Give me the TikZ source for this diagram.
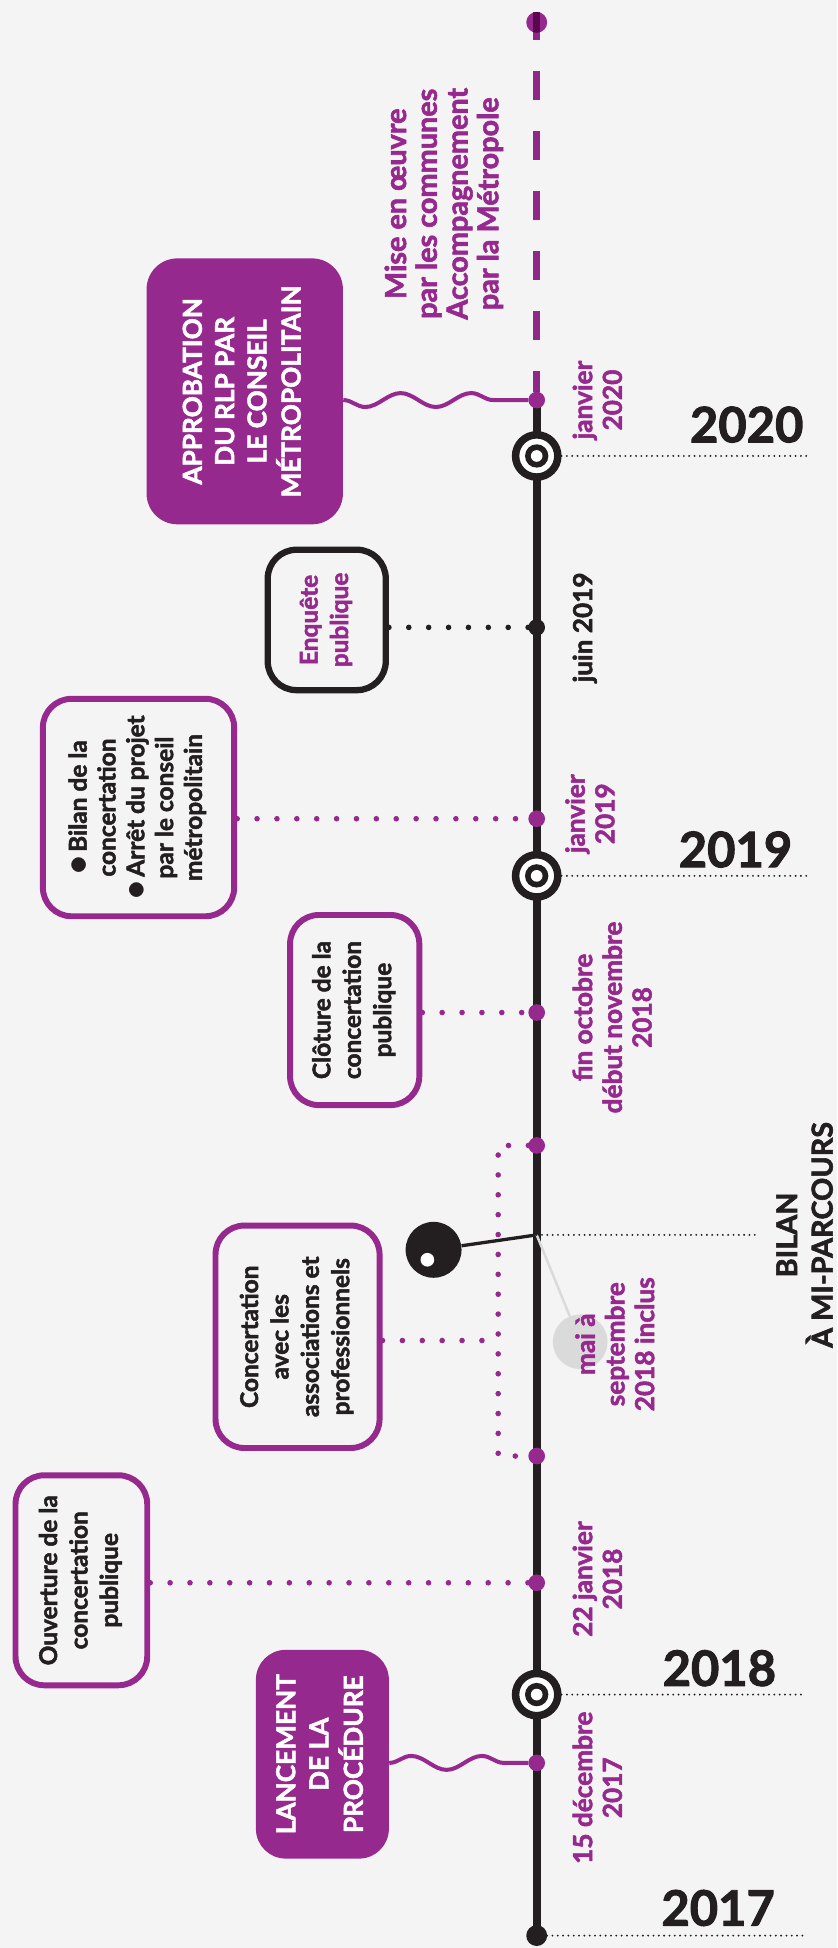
\documentclass[tikz,border=0pt]{standalone}
\usepackage{fontspec}
\usepackage{graphicx}
\setmainfont{Lato}[BoldFeatures={FakeBold=2}]
\usetikzlibrary{positioning,decorations.pathmorphing}

\definecolor{bgc}{HTML}{F4F4F4}
\definecolor{plum}{RGB}{150,41,142}
\definecolor{ink}{HTML}{231F20}
\definecolor{shade}{HTML}{DADADA}

\pgfdeclarelayer{back}
\pgfsetlayers{back,main}

\tikzstyle{solidbox} = [rectangle, fill=plum, text=white, rounded corners=0.62cm, inner sep=0pt, font=\fontsize{15}{18.5}\selectfont\bfseries]
\tikzstyle{plumbox}  = [rectangle, draw=plum, line width=3.4pt, fill=bgc, rounded corners=0.58cm, inner sep=0pt, text=ink, font=\fontsize{14}{17.4}\selectfont\bfseries]
\tikzstyle{inkbox}   = [plumbox, draw=ink, line width=3.6pt, text=plum]
\tikzstyle{event}    = [circle, fill=plum, inner sep=0pt, outer sep=0pt, minimum size=0.335cm]
\tikzstyle{yearmark} = [circle, draw=ink, fill=white, line width=4.3pt, inner sep=0pt, minimum size=0.85cm,
                        path picture={\fill[ink] (path picture bounding box.center) circle (0.235cm);
                                      \fill[white] (path picture bounding box.center) circle (0.1175cm);}]
\tikzstyle{datelbl}  = [inner sep=0pt, outer sep=0pt, text=plum, font=\fontsize{15}{17}\selectfont\bfseries]
\tikzstyle{year}     = [inner sep=0pt, text=ink, font=\fontsize{28}{28}\selectfont\bfseries]
\tikzstyle{pin}      = [circle, fill=ink, inner sep=0pt, minimum size=1.125cm,
                        path picture={\fill[white] ([xshift=-0.125cm, yshift=-0.2cm]path picture bounding box.center) circle (0.1375cm);}]
\tikzstyle{shadow}   = [circle, fill=shade, inner sep=0pt, minimum size=1.1cm]
\tikzstyle{dotp}     = [draw=plum, line width=3.2pt, line cap=round, dash pattern=on 0pt off 0.4cm]
\tikzstyle{dotk}     = [dotp, draw=ink]
\tikzstyle{dotthin}  = [draw=ink, line width=1.2pt, line cap=round, dash pattern=on 0pt off 0.107cm]
\tikzstyle{wave}     = [draw=plum, line width=2.3pt, decorate, decoration={snake, amplitude=0.14cm, segment length=1.42cm}]
\tikzstyle{axisline} = [draw=ink, line width=4.4pt]
\tikzstyle{dashline} = [draw=plum, line width=3.8pt, dash pattern=on 0.585cm off 0.6225cm, dash phase=0.1675cm]

\newcommand{\vtext}[1]{\rotatebox{90}{\begin{tabular}{@{}c@{}}#1\end{tabular}}}
\newcommand{\blt}{\raisebox{-0.06em}{\scalebox{1.5}{$\bullet$}}\,}

\begin{document}
\begin{tikzpicture}[x=0.025cm, y=-0.025cm]

	\useasboundingbox (0,0) rectangle (674,1568);
	\begin{pgfonlayer}{back}
		\fill [bgc] (0,0) rectangle (674,1568);
	\end{pgfonlayer}

	% Node Setting %

	% axis =====================================%
	\node [event, minimum size=0.42cm] (top) at (432,18) {};
	\node [event] (j20) at (432,322) {};
	\node [yearmark] (y20) at (432,367) {};
	\node [event, fill=ink] (jun19) at (432,505) {};
	\node [event] (j19) at (432,659) {};
	\node [yearmark] (y19) at (432,705) {};
	\node [event] (oct18) at (432,815) {};
	\node [event] (mai18) at (432,922) {};
	\coordinate (bilan) at (432,994);
	\node [event] (sep18) at (432,1172) {};
	\node [event] (j18) at (432,1274) {};
	\node [yearmark] (y18) at (432,1364) {};
	\node [event] (d17) at (432,1419) {};
	\node [event, fill=ink, minimum size=0.42cm] (y17) at (432,1558) {};

	% years ====================================%
	\node [year, anchor=base east] (t20) at (647,356) {2020};
	\node [year, anchor=base east] (t19) at (638,698) {2019};
	\node [year, anchor=base east] (t18) at (625,1357) {2018};
	\node [year, anchor=base east] (t17) at (624,1550) {2017};
	\coordinate (e20) at (653,367);
	\coordinate (e19) at (650,705);
	\coordinate (e18) at (648,1364);
	\coordinate (e17) at (648,1558);

	% dates ====================================%
	\node [datelbl, right=0.53cm of j20] (lj20) {\vtext{janvier\\2020}};
	\node [datelbl, text=ink, right=0.53cm of jun19] (ljun19) {\vtext{juin 2019}};
	\node [datelbl, right=0.38cm of j19, yshift=0.1cm] (lj19) {\vtext{janvier\\2019}};
	\node [datelbl, right=0.53cm of oct18, yshift=-0.1cm] (loct18) {\vtext{fin octobre\\début novembre\\2018}};
	\node [shadow] (shd) at (467,1080) {};
	\node [datelbl, anchor=west] (lmai18) at (462,1082) {\vtext{mai à\\septembre\\2018 inclus}};
	\node [datelbl, right=0.53cm of j18, yshift=0.075cm] (lj18) {\vtext{22 janvier\\2018}};
	\node [datelbl, right=0.53cm of d17, yshift=-0.5cm] (ld17) {\vtext{15 décembre\\2017}};
	\node [datelbl, font=\fontsize{16.5}{17.6}\selectfont\bfseries] (suite) at (359,164) {\vtext{Mise en œuvre\\par les communes\\Accompagnement\\par la Métropole}};

	% bilan ====================================%
	\node [pin] (pinb) at (349,1006) {};
	\node [inner sep=0pt, text=ink, font=\fontsize{16.5}{16.5}\selectfont\bfseries] (lbilan) at (651,994) {\vtext{BILAN\\À MI-PARCOURS}};
	\coordinate (bilanE) at (610,994);

	% boxes ====================================%
	\node [solidbox, minimum width=3.95cm, minimum height=5.35cm] (appr) at (197,315) {\vtext{APPROBATION\\DU RLP PAR\\LE CONSEIL\\MÉTROPOLITAIN}};
	\node [inkbox, minimum width=2.375cm, minimum height=2.825cm] (enq) at (263,499) {\vtext{Enquête\\publique}};
	\node [plumbox, minimum width=3.85cm, minimum height=4.375cm, font=\fontsize{14}{16.5}\selectfont\bfseries] (bil) at (111.5,650) {\vtext{\blt Bilan de la\\concertation\\\blt Arrêt du projet\\par le conseil\\métropolitain}};
	\node [plumbox, minimum width=2.6cm, minimum height=3.825cm] (clo) at (285.5,813) {\vtext{Clôture de la\\concertation\\publique}};
	\node [plumbox, minimum width=3.3cm, minimum height=4.475cm] (conc) at (239.5,1076) {\vtext{Concertation\\avec les\\associations et\\professionnels}};
	\node [plumbox, minimum width=2.65cm, minimum height=4.225cm] (ouv) at (65.5,1272) {\vtext{Ouverture de la\\concertation\\publique}};
	\node [solidbox, minimum width=2.675cm, minimum height=4.2cm, rounded corners=0.6cm, font=\fontsize{15}{19}\selectfont\bfseries] (lanc) at (259.5,1412) {\vtext{LANCEMENT\\DE LA\\PROCÉDURE}};

	\coordinate (brkT) at (401,922);
	\coordinate (brkM) at (401,1079);
	\coordinate (brkB) at (401,1172);

	% Connection %

	\begin{pgfonlayer}{back}
		\path [axisline] (j20.center) -- (y17.center);
	\end{pgfonlayer}
	\begin{scope}[blend mode=multiply]
		\path [dashline] (j20.north) -- (top.north);
	\end{scope}
	\path [wave, decoration={mirror}] (appr.east |- j20) -- (j20);
	\path [wave] (lanc.east |- d17) -- (d17);
	\path [dotk] (enq.east |- jun19) -- (jun19);
	\path [dotp] (bil.east |- j19) -- (j19);
	\path [dotp] (clo.east |- oct18) -- (oct18);
	\path [dotp] (mai18) -- (brkT) -- (brkB) -- (sep18);
	\path [dotp] (conc.east |- brkM) -- (brkM);
	\path [dotp] (ouv.east |- j18) -- (j18);
	\path [draw=ink, line width=1.9pt] (bilan) -- (pinb);
	\path [draw=shade, line width=1.4pt] (bilan) -- (shd);
	\path [dotthin] (bilan) -- (bilanE);
	\path [dotthin] (y20) -- (e20);
	\path [dotthin] (y19) -- (e19);
	\path [dotthin] (y18) -- (e18);
	\path [dotthin] (y17) -- (e17);
\end{tikzpicture}
\end{document}
